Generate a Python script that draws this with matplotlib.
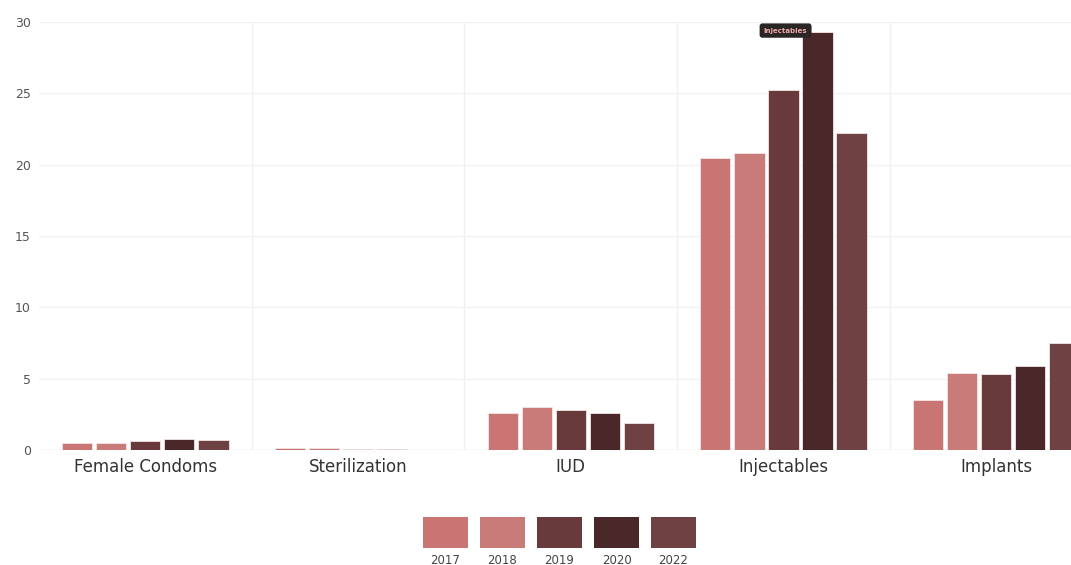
import matplotlib
matplotlib.use("Agg")
import matplotlib.pyplot as plt
from matplotlib.patches import Rectangle
import numpy as np

categories = ["Female Condoms", "Sterilization", "IUD", "Injectables", "Implants"]
years = ["2017", "2018", "2019", "2020", "2022"]
values = {
    "2017": [0.5, 0.15, 2.6, 20.5, 3.5],
    "2018": [0.5, 0.15, 3.0, 20.8, 5.4],
    "2019": [0.6, 0.07, 2.8, 25.2, 5.3],
    "2020": [0.8, 0.07, 2.6, 29.3, 5.9],
    "2022": [0.7, 0.0, 1.9, 22.2, 7.5],
}
colors = ["#c87573", "#c97b79", "#683a3b", "#4a282a", "#6e4142"]
yticks = [0, 5, 10, 15, 20, 25, 30]
tooltip_label = "Injectables"

plt.rcParams['font.family'] = ['DejaVu Sans']

fig = plt.figure(figsize=(10.71, 5.65), dpi=100)
ax = fig.add_axes([39/1071, 1-450/565, 1-39/1071, (450-22)/565])

x = np.arange(len(categories))
step = 0.16
width = 0.142
for i, (yr, col) in enumerate(zip(years, colors)):
    offs = (i - 2) * step
    ax.bar(x + offs, values[yr], width=width, color=col, edgecolor="#f3e6e6",
           linewidth=0.6, zorder=3)

ax.set_xlim(-0.5, -0.5 + (1071-39)/212.7)
ax.set_ylim(0, 30)
ax.set_yticks(yticks)
ax.set_yticklabels([str(t) for t in yticks], fontsize=9, color="#555555")
ax.set_xticks(x)
ax.set_xticklabels(categories, fontsize=12, color="#333333")
ax.tick_params(axis='both', length=0)
ax.tick_params(axis='x', pad=6)
ax.tick_params(axis='y', pad=6)
for s in ax.spines.values():
    s.set_visible(False)
ax.grid(axis='y', color="#f2f2f2", linewidth=1, zorder=0)
for b in np.arange(0.5, len(categories) - 0.5, 1):
    ax.axvline(b, color="#f0f0f0", linewidth=1, zorder=0)
ax.axhline(0, color="#e8e8e8", linewidth=1, zorder=2)

# tooltip
ci = categories.index(tooltip_label)
ax.annotate(tooltip_label, xy=(ci + 0.01, max(values["2020"]) + 0.1),
            ha="center", va="center", fontsize=5, color="#f0a8a8",
            fontweight="bold", zorder=6,
            bbox=dict(boxstyle="round,pad=0.6,rounding_size=0.4",
                      fc="#2a2626", ec="none"))

# legend
for i, (yr, col) in enumerate(zip(years, colors)):
    x0 = (423 + i * 57) / 1071
    fig.add_artist(Rectangle((x0, 1 - 548/565), 45/1071, 31/565,
                             transform=fig.transFigure, facecolor=col,
                             edgecolor="none"))
    fig.text(x0 + 22.5/1071, 1 - 560/565, yr, ha="center", va="center",
             fontsize=8.5, color="#444444")

fig.savefig("out.png", dpi=100, facecolor="white")
